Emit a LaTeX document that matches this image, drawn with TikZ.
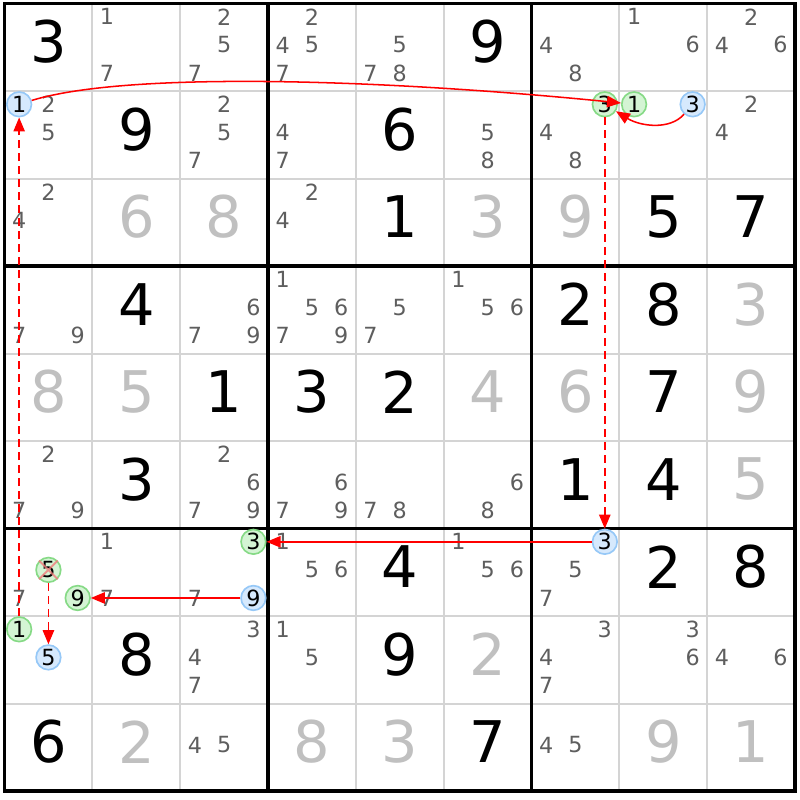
\documentclass[tikz,border=0pt]{standalone}
\usepackage{fontspec}
\setmainfont{DejaVu Sans}
\usetikzlibrary{arrows.meta}
\definecolor{candgray}{HTML}{5E5E5E}
\definecolor{solvedgray}{HTML}{C0C0C0}
\definecolor{gridgray}{HTML}{D4D4D4}
\definecolor{bluefill}{HTML}{D6E9FD}
\definecolor{blueline}{HTML}{96C8F7}
\definecolor{greenfill}{HTML}{D4F4D4}
\definecolor{greenline}{HTML}{86DA86}
\definecolor{crossred}{HTML}{F07C7C}
\begin{document}
\begin{tikzpicture}[x=2.6355cm,y=-2.625cm,
    given/.style={font=\fontsize{49}{49}\selectfont,inner sep=0pt},
    solved/.style={given,text=solvedgray},
    cand/.style={font=\fontsize{19}{19}\selectfont,text=candgray,inner sep=0pt},
    ring/.style={cand,text=black,circle,minimum size=0.74cm,line width=1.4pt},
    onring/.style={ring,draw=blueline,fill=bluefill},
    offring/.style={ring,draw=greenline,fill=greenfill},
    strong/.style={red,line width=1.3pt,-{Triangle[length=4.2mm,width=3.4mm]}},
    weak/.style={strong,dash pattern=on 2.4mm off 1.5mm}]
      % Big digit
      \newcommand\bigdigit[4][given]{
        \node[#1] (r#2c#3) at (#3+0.5,#2+0.437) {#4};
      }
      % Pencil mark
      \newcommand\pencil[4][cand]{
        \node[#1] (r#2c#3n#4) at ({#3+1/6+mod(#4-1,3)/3},{#2+0.152+0.321*floor((#4-1)/3)}) {#4};
      }
      \newcommand\pencils[3]{
        \foreach \d in {#3} {\pencil{#1}{#2}{\d}}
      }
      \path[use as bounding box,fill=white] (-0.0512,-0.04) rectangle (9.0552,9.1029);

      % Grid
      \foreach \i in {1,2,4,5,7,8} {
        \draw[gridgray,line width=0.06cm] (\i,0) -- (\i,9);
        \draw[gridgray,line width=0.06cm] (0,\i) -- (9,\i);
      }
      \foreach \i in {3,6} {
        \draw[line width=0.1cm] (\i,0) -- (\i,9);
        \draw[line width=0.1cm] (0,\i) -- (9,\i);
      }
      \draw[line width=0.11cm] (0,0) rectangle (9,9);

      % Givens
      \bigdigit{0}{0}{3} \bigdigit{0}{5}{9}
      \bigdigit{1}{1}{9} \bigdigit{1}{4}{6}
      \bigdigit{2}{4}{1} \bigdigit{2}{7}{5} \bigdigit{2}{8}{7}
      \bigdigit{3}{1}{4} \bigdigit{3}{6}{2} \bigdigit{3}{7}{8}
      \bigdigit{4}{2}{1} \bigdigit{4}{3}{3} \bigdigit{4}{4}{2} \bigdigit{4}{7}{7}
      \bigdigit{5}{1}{3} \bigdigit{5}{6}{1} \bigdigit{5}{7}{4}
      \bigdigit{6}{4}{4} \bigdigit{6}{7}{2} \bigdigit{6}{8}{8}
      \bigdigit{7}{1}{8} \bigdigit{7}{4}{9}
      \bigdigit{8}{0}{6} \bigdigit{8}{5}{7}

      % Solved cells
      \bigdigit[solved]{2}{1}{6} \bigdigit[solved]{2}{2}{8} \bigdigit[solved]{2}{5}{3}
      \bigdigit[solved]{2}{6}{9}
      \bigdigit[solved]{3}{8}{3}
      \bigdigit[solved]{4}{0}{8} \bigdigit[solved]{4}{1}{5} \bigdigit[solved]{4}{5}{4}
      \bigdigit[solved]{4}{6}{6} \bigdigit[solved]{4}{8}{9}
      \bigdigit[solved]{5}{8}{5}
      \bigdigit[solved]{7}{5}{2}
      \bigdigit[solved]{8}{1}{2} \bigdigit[solved]{8}{3}{8} \bigdigit[solved]{8}{4}{3}
      \bigdigit[solved]{8}{7}{9} \bigdigit[solved]{8}{8}{1}

      % Candidates
      \pencils{0}{1}{1,7} \pencils{0}{2}{2,5,7} \pencils{0}{3}{2,4,5,7}
      \pencils{0}{4}{5,7,8} \pencils{0}{6}{4,8} \pencils{0}{7}{1,6} \pencils{0}{8}{2,4,6}
      \pencils{1}{0}{2,5} \pencils{1}{2}{2,5,7} \pencils{1}{3}{4,7} \pencils{1}{5}{5,8}
      \pencils{1}{6}{4,8} \pencils{1}{8}{2,4}
      \pencils{2}{0}{2,4} \pencils{2}{3}{2,4}
      \pencils{3}{0}{7,9} \pencils{3}{2}{6,7,9} \pencils{3}{3}{1,5,6,7,9}
      \pencils{3}{4}{5,7} \pencils{3}{5}{1,5,6}
      \pencils{5}{0}{2,7,9} \pencils{5}{2}{2,6,7,9} \pencils{5}{3}{6,7,9}
      \pencils{5}{4}{7,8} \pencils{5}{5}{6,8}
      \pencils{6}{0}{7} \pencils{6}{1}{1,7} \pencils{6}{2}{7} \pencils{6}{3}{1,5,6}
      \pencils{6}{5}{1,5,6} \pencils{6}{6}{5,7}
      \pencils{7}{2}{3,4,7} \pencils{7}{3}{1,5} \pencils{7}{6}{3,4,7}
      \pencils{7}{7}{3,6} \pencils{7}{8}{4,6}
      \pencils{8}{2}{4,5} \pencils{8}{6}{4,5}

      % Chain candidates
      \pencil[onring]{1}{0}{1}
      \pencil[offring]{1}{6}{3}
      \pencil[offring]{1}{7}{1}
      \pencil[onring]{1}{7}{3}
      \pencil[offring]{6}{0}{5}
      \pencil[offring]{6}{0}{9}
      \pencil[offring]{6}{2}{3}
      \pencil[onring]{6}{2}{9}
      \pencil[onring]{6}{6}{3}
      \pencil[offring]{7}{0}{1}
      \pencil[onring]{7}{0}{5}
      \draw[crossred,opacity=0.8,line width=1.6pt] (r6c0n5.north west) -- (r6c0n5.south east)
        (r6c0n5.north east) -- (r6c0n5.south west);

      % Links
      \draw[strong] (r1c0n1) .. controls +(1.2,-0.37) and +(-3,-0.3) .. (r1c7n1);
      \draw[strong] (r1c7n3) .. controls +(-0.26,0.3) and +(0.4,0.25) .. (r1c6n3);
      \draw[weak] (r1c6n3) -- (r6c6n3);
      \draw[strong] (r6c6n3) -- (r6c2n3);
      \draw[strong] (r6c2n9) -- (r6c0n9);
      \draw[weak] (r6c0n5) -- (r7c0n5);
      \draw[weak] (r7c0n1) -- (r1c0n1);
    \end{tikzpicture}
\end{document}
